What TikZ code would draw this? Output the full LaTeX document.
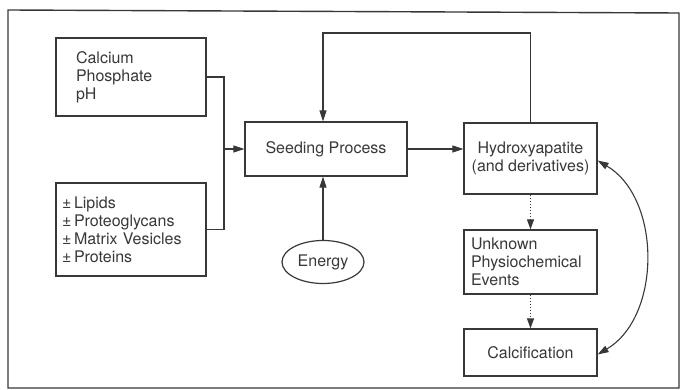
\documentclass[tikz,border=0pt]{standalone}
\usepackage{fontspec}
\setmainfont{TeX Gyre Heros}
\usetikzlibrary{arrows.meta,shapes.geometric}
\definecolor{ink}{gray}{0.22}
\begin{document}
\begin{tikzpicture}[x=1pt,y=-1pt,
  every node/.style={font=\fontsize{16}{18}\selectfont, text=ink},
  box/.style={draw=ink, line width=1.2pt, inner ysep=0pt},
  conn/.style={draw=ink, line width=1.1pt},
  arr/.style={conn, -{Triangle[length=11pt,width=7pt]}},
  darr/.style={conn, dotted, -{Triangle[length=10pt,width=7pt]}},
  barr/.style={conn, {Triangle[length=11pt,width=7pt]}-{Triangle[length=11pt,width=7pt]}}]
\useasboundingbox (0,0) rectangle (683,390);
\draw[draw=ink, line width=1.4pt] (8,10) -- (679,13) -- (679,388) -- (8,388) -- cycle;

\node[box, minimum width=150pt, minimum height=78pt, text width=110pt, inner xsep=20pt, align=left]
  (cal) at (131,77) {Calcium\\Phosphate\\pH};
\node[box, minimum width=150pt, minimum height=93pt, text width=138pt, inner xsep=6pt, align=left]
  (lip) at (131,229.5) {±\,Lipids\\±\,Proteoglycans\\±\,Matrix Vesicles\\±\,Proteins};
\node[box, minimum width=162pt, minimum height=54pt, inner xsep=0pt] (seed) at (326,149) {Seeding Process};
\node[box, minimum width=133pt, minimum height=71pt, align=center, inner xsep=0pt] (hyd) at (530.5,158.5) {\raisebox{-4pt}{\begin{tabular}{@{}c@{}}Hydroxyapatite\\(and derivatives)\end{tabular}}};
\node[box, minimum width=133pt, minimum height=64pt, text width=119pt, inner xsep=7pt, align=left] (unk) at (530.5,262) {Unknown\\Physiochemical\\Events};
\node[box, minimum width=133pt, minimum height=47pt, inner xsep=0pt] (calc) at (530.5,352.5) {Calcification};
\node[draw=ink, line width=1.2pt, ellipse, minimum width=82pt, minimum height=43pt, inner sep=0pt] (en) at (323,262) {Energy};

\coordinate (j) at (224,149);
\coordinate (top) at (323,33);
\draw[conn] (cal.east) -- (cal.east -| j) -- (lip.east -| j) -- (lip.east);
\draw[arr] (j) -- (seed.west);
\draw[arr] (seed.east) -- (seed.east -| hyd.west);
\draw[arr] (en.north) -- (en.north |- seed.south);
\draw[arr] (hyd.north) |- (top) -- (top |- seed.north);
\draw[darr] (hyd.south) -- (unk.north);
\draw[darr] (unk.south) -- (calc.north);
\draw[barr] ([yshift=-2pt]hyd.east) .. controls +(64,38) and +(64,-38) .. ([yshift=-2pt]calc.east);
\end{tikzpicture}
\end{document}
